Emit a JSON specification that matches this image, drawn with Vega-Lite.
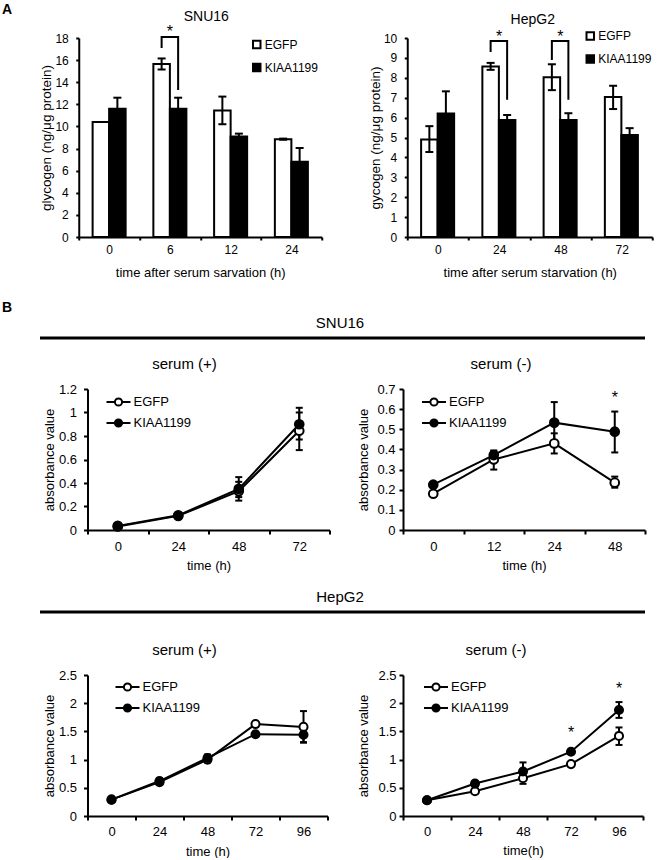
{
  "$schema": "https://vega.github.io/schema/vega-lite/v6.json",
  "background": "white",
  "padding": {"left": 2, "top": 2, "right": 0, "bottom": 0},
  "columns": 1,
  "align": "none",
  "spacing": 21,
  "resolve": {"scale": {"fill": "independent"}, "legend": {"fill": "independent"}},
  "config": {
    "font": "Liberation Sans",
    "view": {"stroke": null},
    "title": {"fontWeight": "normal", "color": "black", "font": "Liberation Sans"},
    "axis": {"grid": false, "labelOverlap": false, "domainColor": "black", "domainWidth": 2, "tickColor": "black", "tickWidth": 2, "labelColor": "black", "titleColor": "black", "titleFontWeight": "normal", "labelFont": "Liberation Sans", "titleFont": "Liberation Sans", "titleFontSize": 13},
    "axisX": {"labelAngle": 0},
    "legend": {"padding": 0, "labelColor": "black", "labelFont": "Liberation Sans"}
  },
  "datasets": {
    "barSNU": [
      {"time": "0", "group": "EGFP", "value": 10.4, "lo": 10.4, "hi": 10.4},
      {"time": "0", "group": "KIAA1199", "value": 11.6, "lo": 10.6, "hi": 12.6},
      {"time": "6", "group": "EGFP", "value": 15.65, "lo": 15.15, "hi": 16.15},
      {"time": "6", "group": "KIAA1199", "value": 11.6, "lo": 10.6, "hi": 12.6},
      {"time": "12", "group": "EGFP", "value": 11.45, "lo": 10.2, "hi": 12.7},
      {"time": "12", "group": "KIAA1199", "value": 9.1, "lo": 8.85, "hi": 9.35},
      {"time": "24", "group": "EGFP", "value": 8.85, "lo": 8.8, "hi": 8.9},
      {"time": "24", "group": "KIAA1199", "value": 6.8, "lo": 5.55, "hi": 8.05}
    ],
    "bracketSNU": [
      {"time": "6", "group": "EGFP", "y": 17.1, "ord": 1},
      {"time": "6", "group": "EGFP", "y": 18.1, "ord": 2},
      {"time": "6", "group": "KIAA1199", "y": 18.1, "ord": 3},
      {"time": "6", "group": "KIAA1199", "y": 13.3, "ord": 4}
    ],
    "starSNU": [{"time": "6", "y": 18.1, "label": "*"}],
    "barHep": [
      {"time": "0", "group": "EGFP", "value": 4.9, "lo": 4.27, "hi": 5.57},
      {"time": "0", "group": "KIAA1199", "value": 6.2, "lo": 5.1, "hi": 7.32},
      {"time": "24", "group": "EGFP", "value": 8.57, "lo": 8.4, "hi": 8.75},
      {"time": "24", "group": "KIAA1199", "value": 5.88, "lo": 5.63, "hi": 6.13},
      {"time": "48", "group": "EGFP", "value": 8.03, "lo": 7.38, "hi": 8.68},
      {"time": "48", "group": "KIAA1199", "value": 5.88, "lo": 5.55, "hi": 6.22},
      {"time": "72", "group": "EGFP", "value": 7.03, "lo": 6.43, "hi": 7.6},
      {"time": "72", "group": "KIAA1199", "value": 5.12, "lo": 4.77, "hi": 5.47}
    ],
    "bracketHep": [
      {"time": "24", "group": "EGFP", "y": 9.3, "ord": 1},
      {"time": "24", "group": "EGFP", "y": 9.85, "ord": 2},
      {"time": "24", "group": "KIAA1199", "y": 9.85, "ord": 3},
      {"time": "24", "group": "KIAA1199", "y": 6.9, "ord": 4},
      {"time": "48", "group": "EGFP", "y": 8.9, "ord": 1},
      {"time": "48", "group": "EGFP", "y": 9.85, "ord": 2},
      {"time": "48", "group": "KIAA1199", "y": 9.85, "ord": 3},
      {"time": "48", "group": "KIAA1199", "y": 6.9, "ord": 4}
    ],
    "starHep": [{"time": "24", "y": 9.82, "label": "*"}, {"time": "48", "y": 9.82, "label": "*"}],
    "snuPlus": [
      {"time": "0", "group": "EGFP", "value": 0.03, "lo": 0.02, "hi": 0.04},
      {"time": "24", "group": "EGFP", "value": 0.12, "lo": 0.11, "hi": 0.13},
      {"time": "48", "group": "EGFP", "value": 0.33, "lo": 0.25, "hi": 0.41},
      {"time": "72", "group": "EGFP", "value": 0.845, "lo": 0.68, "hi": 1.0},
      {"time": "0", "group": "KIAA1199", "value": 0.035, "lo": 0.025, "hi": 0.045},
      {"time": "24", "group": "KIAA1199", "value": 0.125, "lo": 0.115, "hi": 0.135},
      {"time": "48", "group": "KIAA1199", "value": 0.35, "lo": 0.28, "hi": 0.45},
      {"time": "72", "group": "KIAA1199", "value": 0.9, "lo": 0.77, "hi": 1.04}
    ],
    "snuMinus": [
      {"time": "0", "group": "EGFP", "value": 0.18, "lo": 0.17, "hi": 0.19},
      {"time": "12", "group": "EGFP", "value": 0.35, "lo": 0.3, "hi": 0.39},
      {"time": "24", "group": "EGFP", "value": 0.43, "lo": 0.38, "hi": 0.48},
      {"time": "48", "group": "EGFP", "value": 0.235, "lo": 0.21, "hi": 0.265},
      {"time": "0", "group": "KIAA1199", "value": 0.225, "lo": 0.215, "hi": 0.235},
      {"time": "12", "group": "KIAA1199", "value": 0.372, "lo": 0.35, "hi": 0.395},
      {"time": "24", "group": "KIAA1199", "value": 0.533, "lo": 0.43, "hi": 0.635},
      {"time": "48", "group": "KIAA1199", "value": 0.488, "lo": 0.385, "hi": 0.588}
    ],
    "starSnuMinus": [{"time": "48", "y": 0.63, "label": "*"}],
    "hepPlus": [
      {"time": "0", "group": "EGFP", "value": 0.29, "lo": 0.27, "hi": 0.31},
      {"time": "24", "group": "EGFP", "value": 0.6, "lo": 0.56, "hi": 0.64},
      {"time": "48", "group": "EGFP", "value": 1.0, "lo": 0.95, "hi": 1.05},
      {"time": "72", "group": "EGFP", "value": 1.63, "lo": 1.6, "hi": 1.66},
      {"time": "96", "group": "EGFP", "value": 1.58, "lo": 1.3, "hi": 1.86},
      {"time": "0", "group": "KIAA1199", "value": 0.29, "lo": 0.27, "hi": 0.31},
      {"time": "24", "group": "KIAA1199", "value": 0.62, "lo": 0.57, "hi": 0.67},
      {"time": "48", "group": "KIAA1199", "value": 1.03, "lo": 0.97, "hi": 1.09},
      {"time": "72", "group": "KIAA1199", "value": 1.45, "lo": 1.42, "hi": 1.48},
      {"time": "96", "group": "KIAA1199", "value": 1.44, "lo": 1.31, "hi": 1.56}
    ],
    "hepMinus": [
      {"time": "0", "group": "EGFP", "value": 0.28, "lo": 0.26, "hi": 0.3},
      {"time": "24", "group": "EGFP", "value": 0.44, "lo": 0.41, "hi": 0.47},
      {"time": "48", "group": "EGFP", "value": 0.67, "lo": 0.57, "hi": 0.77},
      {"time": "72", "group": "EGFP", "value": 0.92, "lo": 0.89, "hi": 0.95},
      {"time": "96", "group": "EGFP", "value": 1.42, "lo": 1.26, "hi": 1.57},
      {"time": "0", "group": "KIAA1199", "value": 0.28, "lo": 0.26, "hi": 0.3},
      {"time": "24", "group": "KIAA1199", "value": 0.575, "lo": 0.53, "hi": 0.62},
      {"time": "48", "group": "KIAA1199", "value": 0.79, "lo": 0.64, "hi": 0.95},
      {"time": "72", "group": "KIAA1199", "value": 1.14, "lo": 1.1, "hi": 1.18},
      {"time": "96", "group": "KIAA1199", "value": 1.88, "lo": 1.74, "hi": 2.02}
    ],
    "starHepMinus": [{"time": "72", "y": 1.38, "label": "*"}, {"time": "96", "y": 2.16, "label": "*"}],
    "one": [{"k": 1}]
  },
  "concat": [
    {
      "title": {"text": "A", "fontWeight": "bold", "fontSize": 14, "offset": -7},
      "spacing": 36.75,
      "resolve": {"scale": {"fill": "independent"}, "legend": {"fill": "independent"}},
      "hconcat": [
        {"width": 1, "height": 1, "data": {"name": "one"}, "mark": {"type": "point", "opacity": 0, "size": 1}, "encoding": {}},
        {
          "spacing": 45.5,
          "resolve": {"scale": {"fill": "independent"}, "legend": {"fill": "independent"}},
          "hconcat": [
            {
              "width": 243, "height": 199,
              "title": {"text": "SNU16", "fontSize": 14, "fontWeight": "normal", "dx": 6, "offset": 0},
              "layer": [
                {"data": {"name": "barSNU"}, "mark": {"type": "bar", "stroke": "black", "strokeWidth": 2},
                 "encoding": {
                   "x": {"field": "time", "type": "ordinal", "scale": {"type": "band", "domain": ["0", "6", "12", "24"], "paddingInner": 0, "paddingOuter": 0}, "axis": {"title": "time after serum sarvation  (h)", "tickBand": "extent", "tickSize": 3, "labelFontSize": 12, "labelPadding": 4, "titlePadding": 11}},
                   "xOffset": {"field": "group", "type": "nominal", "scale": {"domain": ["EGFP", "KIAA1199"], "paddingInner": 0, "paddingOuter": 0.84}},
                   "y": {"field": "value", "type": "quantitative", "scale": {"domain": [0, 18], "nice": false}, "axis": {"title": "glycogen (ng/μg protein)", "titleFontSize": 13.5, "values": [0, 2, 4, 6, 8, 10, 12, 14, 16, 18], "format": "~g", "tickCount": 30, "tickSize": 3, "labelFontSize": 12, "labelPadding": 7.5, "titlePadding": 1}},
                   "fill": {"field": "group", "type": "nominal", "scale": {"domain": ["EGFP", "KIAA1199"], "range": ["white", "black"]}, "legend": {"title": null, "orient": "none", "legendX": 172, "legendY": 0.5, "symbolType": "square", "symbolSize": 56, "symbolStrokeColor": "black", "symbolStrokeWidth": 2, "labelFontSize": 12, "labelOffset": 2, "rowPadding": 7}}
                 }},
                {"data": {"name": "barSNU"}, "mark": {"type": "rule", "color": "black", "strokeWidth": 2},
                 "encoding": {"x": {"field": "time", "type": "ordinal"}, "xOffset": {"field": "group", "type": "nominal"}, "y": {"field": "lo", "type": "quantitative"}, "y2": {"field": "hi"}}},
                {"data": {"name": "barSNU"}, "mark": {"type": "tick", "color": "black", "thickness": 2, "size": 8, "opacity": 1},
                 "encoding": {"x": {"field": "time", "type": "ordinal"}, "xOffset": {"field": "group", "type": "nominal"}, "y": {"field": "hi", "type": "quantitative"}}},
                {"data": {"name": "barSNU"}, "mark": {"type": "tick", "color": "black", "thickness": 2, "size": 8, "opacity": 1},
                 "encoding": {"x": {"field": "time", "type": "ordinal"}, "xOffset": {"field": "group", "type": "nominal"}, "y": {"field": "lo", "type": "quantitative"}}},
                {"data": {"name": "bracketSNU"}, "mark": {"type": "line", "color": "black", "strokeWidth": 2},
                 "encoding": {"x": {"field": "time", "type": "ordinal"}, "xOffset": {"field": "group", "type": "nominal"}, "y": {"field": "y", "type": "quantitative"}, "detail": {"field": "time"}, "order": {"field": "ord"}}},
                {"data": {"name": "starSNU"}, "mark": {"type": "text", "fontSize": 16, "baseline": "alphabetic", "color": "black"},
                 "encoding": {"x": {"field": "time", "type": "ordinal"}, "y": {"field": "y", "type": "quantitative"}, "text": {"field": "label"}}}
              ]
            },
            {
              "width": 245, "height": 199,
              "title": {"text": "HepG2", "fontSize": 14, "fontWeight": "normal", "dx": 3, "offset": 2},
              "layer": [
                {"data": {"name": "barHep"}, "mark": {"type": "bar", "stroke": "black", "strokeWidth": 2},
                 "encoding": {
                   "x": {"field": "time", "type": "ordinal", "scale": {"type": "band", "domain": ["0", "24", "48", "72"], "paddingInner": 0, "paddingOuter": 0}, "axis": {"title": "time after serum starvation  (h)", "tickBand": "extent", "tickSize": 3, "labelFontSize": 12, "labelPadding": 4, "titlePadding": 11}},
                   "xOffset": {"field": "group", "type": "nominal", "scale": {"domain": ["EGFP", "KIAA1199"], "paddingInner": 0, "paddingOuter": 0.84}},
                   "y": {"field": "value", "type": "quantitative", "scale": {"domain": [0, 10], "nice": false}, "axis": {"title": "gycogen (ng/μg protein)", "titleFontSize": 13.5, "values": [0, 1, 2, 3, 4, 5, 6, 7, 8, 9, 10], "format": "~g", "tickCount": 30, "tickSize": 3, "labelFontSize": 12, "labelPadding": 7.5, "titlePadding": 1}},
                   "fill": {"field": "group", "type": "nominal", "scale": {"domain": ["EGFP", "KIAA1199"], "range": ["white", "black"]}, "legend": {"title": null, "orient": "none", "legendX": 177, "legendY": -8, "symbolType": "square", "symbolSize": 56, "symbolStrokeColor": "black", "symbolStrokeWidth": 2, "labelFontSize": 12, "labelOffset": 2, "rowPadding": 7}}
                 }},
                {"data": {"name": "barHep"}, "mark": {"type": "rule", "color": "black", "strokeWidth": 2},
                 "encoding": {"x": {"field": "time", "type": "ordinal"}, "xOffset": {"field": "group", "type": "nominal"}, "y": {"field": "lo", "type": "quantitative"}, "y2": {"field": "hi"}}},
                {"data": {"name": "barHep"}, "mark": {"type": "tick", "color": "black", "thickness": 2, "size": 8, "opacity": 1},
                 "encoding": {"x": {"field": "time", "type": "ordinal"}, "xOffset": {"field": "group", "type": "nominal"}, "y": {"field": "hi", "type": "quantitative"}}},
                {"data": {"name": "barHep"}, "mark": {"type": "tick", "color": "black", "thickness": 2, "size": 8, "opacity": 1},
                 "encoding": {"x": {"field": "time", "type": "ordinal"}, "xOffset": {"field": "group", "type": "nominal"}, "y": {"field": "lo", "type": "quantitative"}}},
                {"data": {"name": "bracketHep"}, "mark": {"type": "line", "color": "black", "strokeWidth": 2},
                 "encoding": {"x": {"field": "time", "type": "ordinal"}, "xOffset": {"field": "group", "type": "nominal"}, "y": {"field": "y", "type": "quantitative"}, "detail": {"field": "time"}, "order": {"field": "ord"}}},
                {"data": {"name": "starHep"}, "mark": {"type": "text", "fontSize": 16, "baseline": "alphabetic", "color": "black"},
                 "encoding": {"x": {"field": "time", "type": "ordinal"}, "y": {"field": "y", "type": "quantitative"}, "text": {"field": "label"}}}
              ]
            }
          ]
        }
      ]
    },
    {
      "title": {"text": "B", "fontWeight": "bold", "fontSize": 14, "offset": 1},
      "columns": 1,
      "align": "none",
      "spacing": 17,
      "resolve": {"scale": {"fill": "independent"}, "legend": {"fill": "independent"}},
      "concat": [
        {
          "spacing": 35,
          "hconcat": [
            {"width": 1, "height": 1, "data": {"name": "one"}, "mark": {"type": "point", "opacity": 0, "size": 1}, "encoding": {}},
            {
              "width": 605, "height": 1,
              "title": {"text": "SNU16", "fontSize": 15, "fontWeight": "normal", "dx": -2.5, "offset": 6},
              "data": {"name": "one"},
              "mark": {"type": "rule", "color": "black", "strokeWidth": 3},
              "encoding": {"y": {"datum": 1, "type": "quantitative", "scale": {"domain": [0, 1]}, "axis": null}}
            }
          ]
        },
        {
          "spacing": 39.5,
          "resolve": {"scale": {"fill": "independent"}, "legend": {"fill": "independent"}},
          "hconcat": [
            {"width": 1, "height": 1, "data": {"name": "one"}, "mark": {"type": "point", "opacity": 0, "size": 1}, "encoding": {}},
            {
              "spacing": 26.5,
              "resolve": {"scale": {"fill": "independent"}, "legend": {"fill": "independent"}},
              "hconcat": [
                {
                  "width": 242, "height": 141,
                  "title": {"text": "serum (+)", "fontSize": 15, "fontWeight": "normal", "dx": -24, "offset": 11},
                  "layer": [
                    {"data": {"name": "snuPlus"}, "mark": {"type": "rule", "color": "black", "strokeWidth": 2},
                     "encoding": {
                       "x": {"field": "time", "type": "ordinal", "scale": {"type": "band", "domain": ["0", "24", "48", "72"], "paddingInner": 0, "paddingOuter": 0}, "axis": {"title": "time (h)", "tickBand": "extent", "tickSize": 4, "labelFontSize": 13, "labelPadding": 6, "titlePadding": 6}},
                       "y": {"field": "lo", "type": "quantitative", "scale": {"domain": [0, 1.2], "nice": false}, "axis": {"title": "absorbance value", "values": [0, 0.2, 0.4, 0.6, 0.8, 1, 1.2], "tickCount": 30, "format": "~g", "tickSize": 4, "labelFontSize": 13, "labelPadding": 7, "titlePadding": 2}},
                       "y2": {"field": "hi"}
                     }},
                    {"data": {"name": "snuPlus"}, "mark": {"type": "tick", "color": "black", "thickness": 2, "size": 7, "opacity": 1},
                     "encoding": {"x": {"field": "time", "type": "ordinal"}, "y": {"field": "hi", "type": "quantitative"}}},
                    {"data": {"name": "snuPlus"}, "mark": {"type": "tick", "color": "black", "thickness": 2, "size": 7, "opacity": 1},
                     "encoding": {"x": {"field": "time", "type": "ordinal"}, "y": {"field": "lo", "type": "quantitative"}}},
                    {"data": {"name": "snuPlus"}, "mark": {"type": "line", "color": "black", "strokeWidth": 2},
                     "encoding": {"x": {"field": "time", "type": "ordinal"}, "y": {"field": "value", "type": "quantitative"}, "detail": {"field": "group"}}},
                    {"data": {"name": "snuPlus"}, "mark": {"type": "point", "shape": "circle", "filled": true, "size": 75, "stroke": "black", "strokeWidth": 2, "opacity": 1},
                     "encoding": {"x": {"field": "time", "type": "ordinal"}, "y": {"field": "value", "type": "quantitative"},
                       "fill": {"field": "group", "type": "nominal", "scale": {"domain": ["EGFP", "KIAA1199"], "range": ["white", "black"]}, "legend": {"title": null, "orient": "none", "legendX": 18, "legendY": 0, "symbolType": "M-1,0H-0.3M0.3,0H1M0.3,0A0.3,0.3,0,1,1,-0.3,0A0.3,0.3,0,1,1,0.3,0Z", "symbolSize": 576, "symbolStrokeColor": "black", "symbolStrokeWidth": 2, "labelFontSize": 13, "labelOffset": 2, "rowPadding": -1}}}}
                  ]
                },
                {
                  "width": 242, "height": 141,
                  "title": {"text": "serum (-)", "fontSize": 15, "fontWeight": "normal", "dx": -23, "offset": 11},
                  "layer": [
                    {"data": {"name": "snuMinus"}, "mark": {"type": "rule", "color": "black", "strokeWidth": 2},
                     "encoding": {
                       "x": {"field": "time", "type": "ordinal", "scale": {"type": "band", "domain": ["0", "12", "24", "48"], "paddingInner": 0, "paddingOuter": 0}, "axis": {"title": "time (h)", "tickBand": "extent", "tickSize": 4, "labelFontSize": 13, "labelPadding": 6, "titlePadding": 6}},
                       "y": {"field": "lo", "type": "quantitative", "scale": {"domain": [0, 0.7], "nice": false}, "axis": {"title": "absorbance value", "values": [0, 0.1, 0.2, 0.3, 0.4, 0.5, 0.6, 0.7], "tickCount": 30, "format": "~g", "tickSize": 4, "labelFontSize": 13, "labelPadding": 4, "titlePadding": 6}},
                       "y2": {"field": "hi"}
                     }},
                    {"data": {"name": "snuMinus"}, "mark": {"type": "tick", "color": "black", "thickness": 2, "size": 7, "opacity": 1},
                     "encoding": {"x": {"field": "time", "type": "ordinal"}, "y": {"field": "hi", "type": "quantitative"}}},
                    {"data": {"name": "snuMinus"}, "mark": {"type": "tick", "color": "black", "thickness": 2, "size": 7, "opacity": 1},
                     "encoding": {"x": {"field": "time", "type": "ordinal"}, "y": {"field": "lo", "type": "quantitative"}}},
                    {"data": {"name": "snuMinus"}, "mark": {"type": "line", "color": "black", "strokeWidth": 2},
                     "encoding": {"x": {"field": "time", "type": "ordinal"}, "y": {"field": "value", "type": "quantitative"}, "detail": {"field": "group"}}},
                    {"data": {"name": "snuMinus"}, "mark": {"type": "point", "shape": "circle", "filled": true, "size": 75, "stroke": "black", "strokeWidth": 2, "opacity": 1},
                     "encoding": {"x": {"field": "time", "type": "ordinal"}, "y": {"field": "value", "type": "quantitative"},
                       "fill": {"field": "group", "type": "nominal", "scale": {"domain": ["EGFP", "KIAA1199"], "range": ["white", "black"]}, "legend": {"title": null, "orient": "none", "legendX": 18, "legendY": 0, "symbolType": "M-1,0H-0.3M0.3,0H1M0.3,0A0.3,0.3,0,1,1,-0.3,0A0.3,0.3,0,1,1,0.3,0Z", "symbolSize": 576, "symbolStrokeColor": "black", "symbolStrokeWidth": 2, "labelFontSize": 13, "labelOffset": 2, "rowPadding": -1}}}},
                    {"data": {"name": "starSnuMinus"}, "mark": {"type": "text", "fontSize": 16, "baseline": "alphabetic", "color": "black"},
                     "encoding": {"x": {"field": "time", "type": "ordinal"}, "y": {"field": "y", "type": "quantitative"}, "text": {"field": "label"}}}
                  ]
                }
              ]
            }
          ]
        },
        {
          "spacing": 35,
          "hconcat": [
            {"width": 1, "height": 1, "data": {"name": "one"}, "mark": {"type": "point", "opacity": 0, "size": 1}, "encoding": {}},
            {
              "width": 605, "height": 14,
              "title": {"text": "HepG2", "fontSize": 15, "fontWeight": "normal", "dx": -2.5, "offset": 6},
              "data": {"name": "one"},
              "mark": {"type": "rule", "color": "black", "strokeWidth": 3},
              "encoding": {"y": {"datum": 1, "type": "quantitative", "scale": {"domain": [0, 1]}, "axis": null}}
            }
          ]
        },
        {
          "spacing": 39.5,
          "resolve": {"scale": {"fill": "independent"}, "legend": {"fill": "independent"}},
          "hconcat": [
            {"width": 1, "height": 1, "data": {"name": "one"}, "mark": {"type": "point", "opacity": 0, "size": 1}, "encoding": {}},
            {
              "spacing": 28.5,
              "resolve": {"scale": {"fill": "independent"}, "legend": {"fill": "independent"}},
              "hconcat": [
                {
                  "width": 240, "height": 141,
                  "title": {"text": "serum (+)", "fontSize": 15, "fontWeight": "normal", "dx": -23, "offset": 11},
                  "layer": [
                    {"data": {"name": "hepPlus"}, "mark": {"type": "rule", "color": "black", "strokeWidth": 2},
                     "encoding": {
                       "x": {"field": "time", "type": "ordinal", "scale": {"type": "band", "domain": ["0", "24", "48", "72", "96"], "paddingInner": 0, "paddingOuter": 0}, "axis": {"title": "time (h)", "tickBand": "extent", "tickSize": 4, "labelFontSize": 13, "labelPadding": 5, "titlePadding": 7}},
                       "y": {"field": "lo", "type": "quantitative", "scale": {"domain": [0, 2.5], "nice": false}, "axis": {"title": "absorbance value", "values": [0, 0.5, 1, 1.5, 2, 2.5], "tickCount": 30, "format": "~g", "tickSize": 4, "labelFontSize": 13, "labelPadding": 7, "titlePadding": 2}},
                       "y2": {"field": "hi"}
                     }},
                    {"data": {"name": "hepPlus"}, "mark": {"type": "tick", "color": "black", "thickness": 2, "size": 7, "opacity": 1},
                     "encoding": {"x": {"field": "time", "type": "ordinal"}, "y": {"field": "hi", "type": "quantitative"}}},
                    {"data": {"name": "hepPlus"}, "mark": {"type": "tick", "color": "black", "thickness": 2, "size": 7, "opacity": 1},
                     "encoding": {"x": {"field": "time", "type": "ordinal"}, "y": {"field": "lo", "type": "quantitative"}}},
                    {"data": {"name": "hepPlus"}, "mark": {"type": "line", "color": "black", "strokeWidth": 2},
                     "encoding": {"x": {"field": "time", "type": "ordinal"}, "y": {"field": "value", "type": "quantitative"}, "detail": {"field": "group"}}},
                    {"data": {"name": "hepPlus"}, "mark": {"type": "point", "shape": "circle", "filled": true, "size": 65, "stroke": "black", "strokeWidth": 2, "opacity": 1},
                     "encoding": {"x": {"field": "time", "type": "ordinal"}, "y": {"field": "value", "type": "quantitative"},
                       "fill": {"field": "group", "type": "nominal", "scale": {"domain": ["EGFP", "KIAA1199"], "range": ["white", "black"]}, "legend": {"title": null, "orient": "none", "legendX": 27, "legendY": -1, "symbolType": "M-1,0H-0.3M0.3,0H1M0.3,0A0.3,0.3,0,1,1,-0.3,0A0.3,0.3,0,1,1,0.3,0Z", "symbolSize": 576, "symbolStrokeColor": "black", "symbolStrokeWidth": 2, "labelFontSize": 13, "labelOffset": 2, "rowPadding": -2}}}}
                  ]
                },
                {
                  "width": 240, "height": 141,
                  "title": {"text": "serum (-)", "fontSize": 15, "fontWeight": "normal", "dx": -27, "offset": 11},
                  "layer": [
                    {"data": {"name": "hepMinus"}, "mark": {"type": "rule", "color": "black", "strokeWidth": 2},
                     "encoding": {
                       "x": {"field": "time", "type": "ordinal", "scale": {"type": "band", "domain": ["0", "24", "48", "72", "96"], "paddingInner": 0, "paddingOuter": 0}, "axis": {"title": "time(h)", "tickBand": "extent", "tickSize": 4, "labelFontSize": 13, "labelPadding": 5, "titlePadding": 6}},
                       "y": {"field": "lo", "type": "quantitative", "scale": {"domain": [0, 2.5], "nice": false}, "axis": {"title": "absorbance value", "values": [0, 0.5, 1, 1.5, 2, 2.5], "tickCount": 30, "format": "~g", "tickSize": 4, "labelFontSize": 13, "labelPadding": 3, "titlePadding": 7}},
                       "y2": {"field": "hi"}
                     }},
                    {"data": {"name": "hepMinus"}, "mark": {"type": "tick", "color": "black", "thickness": 2, "size": 7, "opacity": 1},
                     "encoding": {"x": {"field": "time", "type": "ordinal"}, "y": {"field": "hi", "type": "quantitative"}}},
                    {"data": {"name": "hepMinus"}, "mark": {"type": "tick", "color": "black", "thickness": 2, "size": 7, "opacity": 1},
                     "encoding": {"x": {"field": "time", "type": "ordinal"}, "y": {"field": "lo", "type": "quantitative"}}},
                    {"data": {"name": "hepMinus"}, "mark": {"type": "line", "color": "black", "strokeWidth": 2},
                     "encoding": {"x": {"field": "time", "type": "ordinal"}, "y": {"field": "value", "type": "quantitative"}, "detail": {"field": "group"}}},
                    {"data": {"name": "hepMinus"}, "mark": {"type": "point", "shape": "circle", "filled": true, "size": 65, "stroke": "black", "strokeWidth": 2, "opacity": 1},
                     "encoding": {"x": {"field": "time", "type": "ordinal"}, "y": {"field": "value", "type": "quantitative"},
                       "fill": {"field": "group", "type": "nominal", "scale": {"domain": ["EGFP", "KIAA1199"], "range": ["white", "black"]}, "legend": {"title": null, "orient": "none", "legendX": 20, "legendY": -1, "symbolType": "M-1,0H-0.3M0.3,0H1M0.3,0A0.3,0.3,0,1,1,-0.3,0A0.3,0.3,0,1,1,0.3,0Z", "symbolSize": 576, "symbolStrokeColor": "black", "symbolStrokeWidth": 2, "labelFontSize": 13, "labelOffset": 2, "rowPadding": -2}}}},
                    {"data": {"name": "starHepMinus"}, "mark": {"type": "text", "fontSize": 16, "baseline": "alphabetic", "color": "black"},
                     "encoding": {"x": {"field": "time", "type": "ordinal"}, "y": {"field": "y", "type": "quantitative"}, "text": {"field": "label"}}}
                  ]
                }
              ]
            }
          ]
        }
      ]
    }
  ]
}
